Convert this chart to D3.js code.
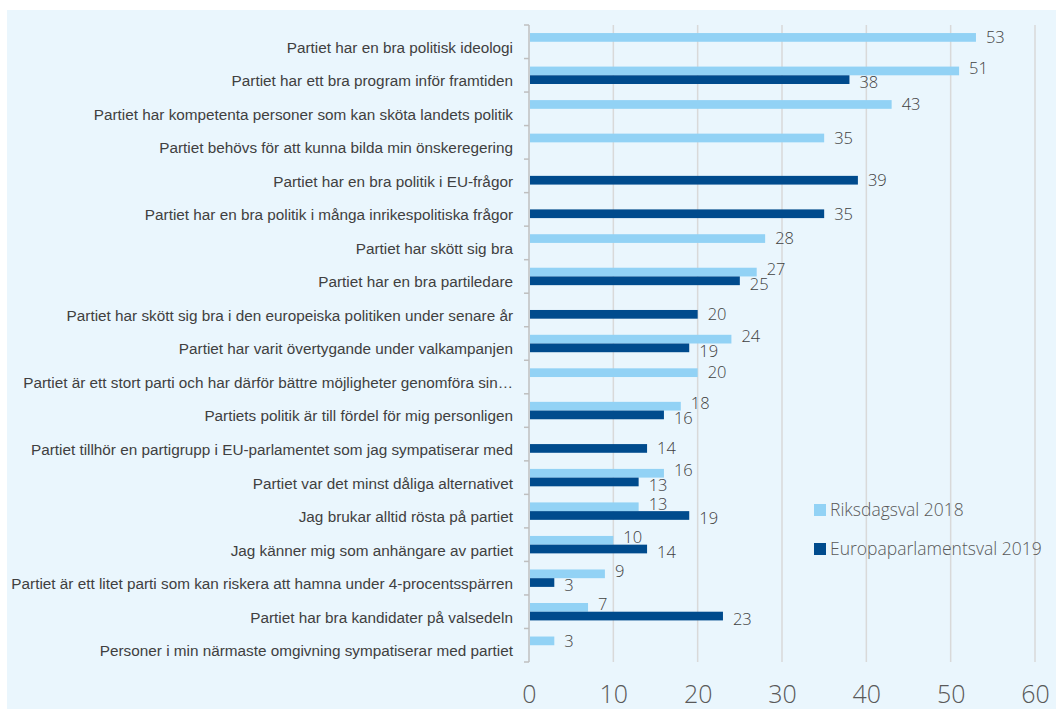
<!DOCTYPE html>
<html>
<head>
<meta charset="utf-8">
<script src="https://cdn.jsdelivr.net/npm/d3@7"></script>
<style>
    body { margin: 0; background: #ffffff; }
    .cat-axis text { font-family: "Liberation Sans", Arial, sans-serif; font-size: 15.3px; fill: #404040; }
    .x-axis text { font-family: "Open Sans", sans-serif; font-weight: 300; font-size: 25px; fill: #595959; }
    .value-label { font-family: "Open Sans", sans-serif; font-weight: 300; font-size: 16.5px; fill: #404040; }
    .legend text { font-family: "Open Sans", sans-serif; font-weight: 300; font-size: 17.5px; fill: #595959; }
</style>
</head>
<body>
<div id="chart"></div>
<script>
// categories top to bottom
const categories = [
    "Partiet har en bra politisk ideologi",
    "Partiet har ett bra program inför framtiden",
    "Partiet har kompetenta personer som kan sköta landets politik",
    "Partiet behövs för att kunna bilda min önskeregering",
    "Partiet har en bra politik i EU-frågor",
    "Partiet har en bra politik i många inrikespolitiska frågor",
    "Partiet har skött sig bra",
    "Partiet har en bra partiledare",
    "Partiet har skött sig bra i den europeiska politiken under senare år",
    "Partiet har varit övertygande under valkampanjen",
    "Partiet är ett stort parti och har därför bättre möjligheter genomföra sin…",
    "Partiets politik är till fördel för mig personligen",
    "Partiet tillhör en partigrupp i EU-parlamentet som jag sympatiserar med",
    "Partiet var det minst dåliga alternativet",
    "Jag brukar alltid rösta på partiet",
    "Jag känner mig som anhängare av partiet",
    "Partiet är ett litet parti som kan riskera att hamna under 4-procentsspärren",
    "Partiet har bra kandidater på valsedeln",
    "Personer i min närmaste omgivning sympatiserar med partiet"
];

const riksdag2018 = [53, 51, 43, 35, null, null, 28, 27, null, 24, 20, 18, null, 16, 13, 10, 9, 7, 3];
const europa2019 = [null, 38, null, null, 39, 35, null, 25, 20, 19, null, 16, 14, 13, 19, 14, 3, 23, null];

const seriesNames = ["Riksdagsval 2018", "Europaparlamentsval 2019"];
const seriesColors = ["#92D2F5", "#004B8D"];
const xTicks = [0, 10, 20, 30, 40, 50, 60];

let svg = d3.select("#chart").append("svg")
    .attr("width", 1056)
    .attr("height", 709);

// panel background
svg.append("rect")
    .attr("x", 7).attr("y", 10)
    .attr("width", 1049).attr("height", 699)
    .attr("fill", "#EAF6FD");

let plot = {left: 529, right: 1035, top: 25, bottom: 662};

let x = d3.scaleLinear().domain([0, 60]).range([plot.left, plot.right]);
let y = d3.scaleBand().domain(categories).range([plot.top, plot.bottom]).padding(0);
let ySub = d3.scaleBand().domain(seriesNames).range([0, y.bandwidth()])
    .paddingInner(0).paddingOuter(0.925);

// gridlines
svg.append("g").selectAll("line")
    .data(xTicks.slice(1))
    .enter().append("line")
    .attr("x1", d => x(d)).attr("x2", d => x(d))
    .attr("y1", plot.top).attr("y2", plot.bottom)
    .attr("stroke", "#D9D9D9")
    .attr("stroke-width", 1.5);

// build rows
let rows = categories.map((c, i) => ({
    cat: c,
    vals: [riksdag2018[i], europa2019[i]]
}));

let bars = [];
rows.forEach(r => {
    let pair = r.vals[0] != null && r.vals[1] != null;
    r.vals.forEach((v, s) => {
        if (v == null) return;
        bars.push({cat: r.cat, series: seriesNames[s], color: seriesColors[s], value: v,
            shift: pair ? (s === 0 ? -3 : 3) : 0});
    });
});

svg.append("g").selectAll("rect")
    .data(bars)
    .enter().append("rect")
    .attr("x", x(0) + 1)
    .attr("y", d => y(d.cat) + ySub(d.series))
    .attr("width", d => x(d.value) - x(0) - 1)
    .attr("height", ySub.bandwidth())
    .attr("fill", d => d.color);

// value labels
svg.append("g").selectAll("text")
    .data(bars)
    .enter().append("text")
    .attr("class", "value-label")
    .attr("x", d => x(d.value) + 10)
    .attr("y", d => y(d.cat) + ySub(d.series) + ySub.bandwidth() / 2 + d.shift)
    .attr("dy", "0.35em")
    .text(d => d.value);

// category axis
let catAxis = svg.append("g")
    .attr("class", "cat-axis")
    .attr("transform", `translate(${plot.left}, 0)`)
    .call(d3.axisLeft(y).tickSize(0).tickPadding(16));
catAxis.select(".domain").remove();
catAxis.selectAll("text").attr("y", 6);

// axis line + boundary ticks
svg.append("line")
    .attr("x1", plot.left).attr("x2", plot.left)
    .attr("y1", plot.top).attr("y2", plot.bottom)
    .attr("stroke", "#BFBFBF").attr("stroke-width", 1.5);
let bounds = categories.map(c => y(c)).concat([plot.bottom]);
svg.append("g").selectAll("line")
    .data(bounds)
    .enter().append("line")
    .attr("x1", plot.left - 5).attr("x2", plot.left)
    .attr("y1", d => d).attr("y2", d => d)
    .attr("stroke", "#BFBFBF").attr("stroke-width", 1.5);

// x axis
let xAxis = svg.append("g")
    .attr("class", "x-axis")
    .attr("transform", `translate(0, ${plot.bottom})`)
    .call(d3.axisBottom(x).tickValues(xTicks).tickSize(0));
xAxis.select(".domain").remove();
xAxis.selectAll("text").attr("y", 32).attr("dy", "0.35em");

// legend
let legend = svg.append("g").attr("class", "legend")
    .attr("transform", "translate(814, 504)");
let items = legend.selectAll("g")
    .data(seriesNames)
    .enter().append("g")
    .attr("transform", (d, i) => `translate(0, ${i * 39})`);
items.append("rect")
    .attr("width", 12).attr("height", 12)
    .attr("fill", (d, i) => seriesColors[i]);
items.append("text")
    .attr("x", 16).attr("y", 6)
    .attr("dy", "0.35em")
    .text(d => d);
</script>
</body>
</html>
